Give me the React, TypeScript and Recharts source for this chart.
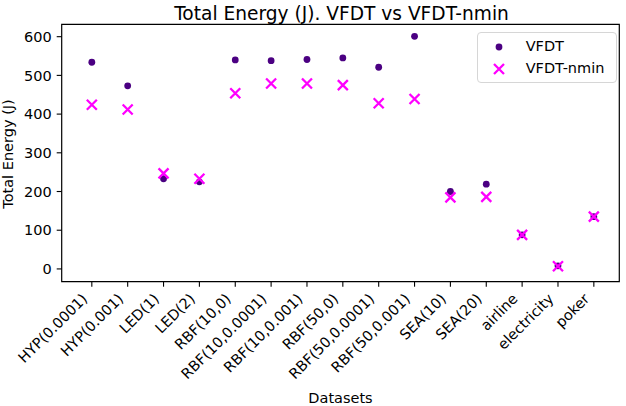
import {
  ScatterChart,
  Scatter,
  XAxis,
  YAxis,
  ReferenceArea,
} from "recharts";

const DATASETS = [
  "HYP(0.0001)",
  "HYP(0.001)",
  "LED(1)",
  "LED(2)",
  "RBF(10,0)",
  "RBF(10,0.0001)",
  "RBF(10,0.001)",
  "RBF(50,0)",
  "RBF(50,0.0001)",
  "RBF(50,0.001)",
  "SEA(10)",
  "SEA(20)",
  "airline",
  "electricity",
  "poker",
];

const VFDT = [534, 473, 233, 225, 540, 538, 541, 545, 521, 601, 200, 219, 88, 8, 135];
const VFDT_NMIN = [424, 412, 247, 233, 454, 479, 479, 475, 428, 439, 185, 186, 88, 7, 135];

const Y_TICKS = [0, 100, 200, 300, 400, 500, 600];

const INDIGO = "#4b0082";
const MAGENTA = "#ff00ff";
const FONT = "DejaVu Sans, sans-serif";

const X_DOMAIN: [number, number] = [-0.84, 14.71];
const Y_DOMAIN: [number, number] = [-33, 632];

const vfdtData = DATASETS.map((name, i) => ({ x: i, y: VFDT[i], name }));
const nminData = DATASETS.map((name, i) => ({ x: i, y: VFDT_NMIN[i], name }));

const Dot = (p: any) => <circle cx={p.cx} cy={p.cy} r={3.4} fill={INDIGO} />;

const Cross = (p: any) => {
  const s = 5;
  return (
    <path
      d={`M${p.cx - s},${p.cy - s}L${p.cx + s},${p.cy + s}M${p.cx - s},${p.cy + s}L${p.cx + s},${p.cy - s}`}
      stroke={MAGENTA}
      strokeWidth={2.3}
      fill="none"
    />
  );
};

const XTick = ({ x, y, payload }: any) => (
  <text
    transform={`translate(${x - 3.5},${y + 8}) rotate(-45)`}
    textAnchor="end"
    fontSize={14.5}
    fontFamily={FONT}
    fill="#000"
  >
    {DATASETS[payload.value]}
  </text>
);

// legend drawn as plain overlay so it does not eat plot space
const LegendBox = () => (
  <div
    style={{
      position: "absolute",
      left: 476.7,
      top: 31.7,
      width: 138,
      height: 49,
      border: "1px solid #d6d6d6",
      borderRadius: 4,
      background: "rgba(255,255,255,0.8)",
      fontFamily: FONT,
      fontSize: 14.5,
      lineHeight: "17px",
    }}
  >
    <svg width={30} height={49} style={{ position: "absolute", left: 10, top: 0 }}>
      <circle cx={11} cy={14} r={3.4} fill={INDIGO} />
      <path d="M6,31L16,41M6,41L16,31" stroke={MAGENTA} strokeWidth={2.3} />
    </svg>
    <div style={{ position: "absolute", left: 48, top: 5 }}>VFDT</div>
    <div style={{ position: "absolute", left: 48, top: 27 }}>VFDT-nmin</div>
  </div>
);

export default function App() {
  return (
    <div style={{ position: "absolute", left: 0, top: 0, width: 626, height: 406, background: "#fff" }}>
      <ScatterChart
        width={626}
        height={406}
        margin={{ top: 24.3, right: 6.7, bottom: 24.3, left: 0 }}
      >
        <XAxis
          type="number"
          dataKey="x"
          domain={X_DOMAIN}
          ticks={DATASETS.map((_, i) => i)}
          interval={0}
          allowDataOverflow
          height={100}
          tick={<XTick />}
          tickSize={5}
          tickMargin={5}
          axisLine={false}
          tickLine={{ stroke: "#000", strokeWidth: 1.1 }}
        />
        <YAxis
          type="number"
          dataKey="y"
          domain={Y_DOMAIN}
          ticks={Y_TICKS}
          allowDataOverflow
          width={61.7}
          tickSize={5}
          tickMargin={5}
          axisLine={false}
          tickLine={{ stroke: "#000", strokeWidth: 1.1 }}
          tick={{ fontSize: 14.5, fontFamily: FONT, fill: "#000" }}
        />
        <ReferenceArea
          x1={X_DOMAIN[0]}
          x2={X_DOMAIN[1]}
          y1={Y_DOMAIN[0]}
          y2={Y_DOMAIN[1]}
          fill="none"
          stroke="#000"
          strokeWidth={1.2}
          fillOpacity={0}
        />
        <Scatter name="VFDT" data={vfdtData} shape={Dot} isAnimationActive={false} />
        <Scatter name="VFDT-nmin" data={nminData} shape={Cross} isAnimationActive={false} />
      </ScatterChart>
      <LegendBox />
      <svg
        width={626}
        height={406}
        style={{ position: "absolute", left: 0, top: 0, pointerEvents: "none" }}
      >
        <text x={341.5} y={20} textAnchor="middle" fontSize={18.6} fontFamily={FONT} fill="#000">
          Total Energy (J). VFDT vs VFDT-nmin
        </text>
        <text
          transform="translate(13.3,154) rotate(-90)"
          textAnchor="middle"
          fontSize={14.5}
          fontFamily={FONT}
          fill="#000"
        >
          Total Energy (J)
        </text>
        <text x={340.5} y={403} textAnchor="middle" fontSize={14.5} fontFamily={FONT} fill="#000">
          Datasets
        </text>
      </svg>
    </div>
  );
}
